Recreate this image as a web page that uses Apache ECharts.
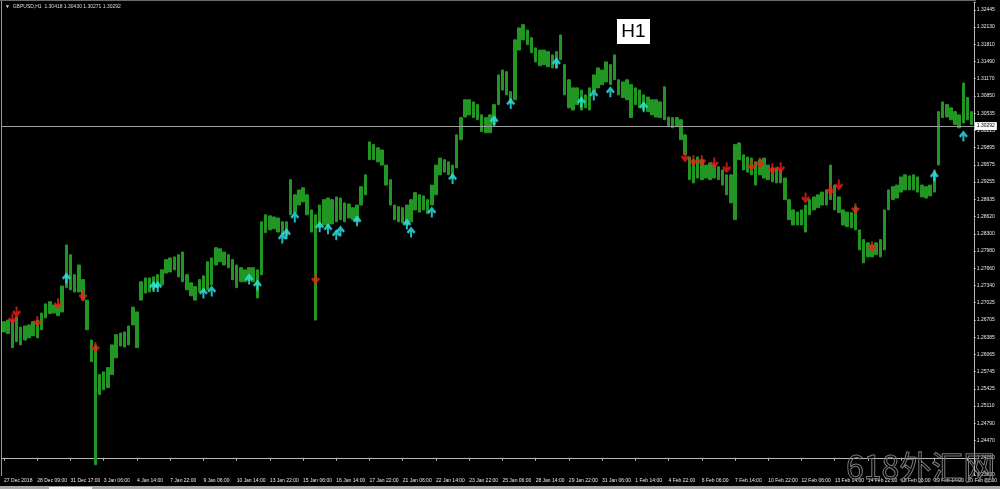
<!DOCTYPE html>
<html><head><meta charset="utf-8">
<script src="https://cdn.jsdelivr.net/npm/echarts@6/dist/echarts.min.js"></script>
<style>html,body{margin:0;padding:0;background:#000;overflow:hidden}#c{width:1000px;height:489px}</style>
</head><body><div id="c"></div>
<script>
// ---- DATA ----
const titleText = '\u25BC  GBPUSD,H1  1.30418 1.30430 1.30271 1.30292';
const periodLabel = 'H1';
const watermark = '618\u5916\u6C47\u7F51';
const currentPrice = 1.30292;
const currentPriceLabel = '1.30292';

const xLabels = ["27 Dec 2018","28 Dec 09:00","31 Dec 17:00","3 Jan 06:00","4 Jan 14:00","7 Jan 22:00","9 Jan 06:00","10 Jan 14:00","13 Jan 22:00","15 Jan 06:00","16 Jan 14:00","17 Jan 22:00","21 Jan 06:00","22 Jan 14:00","23 Jan 22:00","25 Jan 06:00","28 Jan 14:00","29 Jan 22:00","31 Jan 06:00","1 Feb 14:00","4 Feb 22:00","6 Feb 06:00","7 Feb 14:00","10 Feb 22:00","12 Feb 06:00","13 Feb 14:00","14 Feb 22:00","18 Feb 06:00","19 Feb 14:00","20 Feb 22:00"];
const barsPerLabel = 8;

// price tick labels, bottom to top
const yLabels = ["1.23830","1.24150","1.24470","1.24790","1.25110","1.25425","1.25745","1.26065","1.26385","1.26705","1.27025","1.27340","1.27660","1.27980","1.28300","1.28620","1.28935","1.29255","1.29575","1.29895","1.30215","1.30535","1.30850","1.31170","1.31490","1.31810","1.32130","1.32445"];
const yTickBase = 1.24150;
const yTickStep = 0.0031904;
const yTop = 1.32590;

const highs = [
1.2667,1.2670,1.2670,1.2676,1.2657,1.2659,1.2661,1.2667,1.2670,1.2683,
1.2700,1.2704,1.2698,1.2698,1.2733,1.2809,1.2791,1.2754,1.2772,1.2745,
1.2707,1.2633,1.2624,1.2569,1.2574,1.2582,1.2624,1.2643,1.2646,1.2648,
1.2659,1.2694,1.2685,1.2741,1.2748,1.2748,1.2750,1.2754,1.2763,1.2782,
1.2785,1.2787,1.2791,1.2796,1.2754,1.2739,1.2732,1.2745,1.2752,1.2778,
1.2785,1.2804,1.2802,1.2796,1.2791,1.2782,1.2772,1.2767,1.2763,1.2767,
1.2767,1.2763,1.2852,1.2865,1.2863,1.2861,1.2859,1.2852,1.2852,1.2930,
1.2902,1.2911,1.2915,1.2902,1.2874,1.2865,1.2883,1.2893,1.2896,1.2893,
1.2898,1.2896,1.2887,1.2885,1.2878,1.2883,1.2917,1.2939,1.3000,1.2995,
1.2989,1.2985,1.2957,1.2930,1.2883,1.2880,1.2878,1.2883,1.2893,1.2906,
1.2902,1.2900,1.2893,1.2920,1.2957,1.2970,1.2967,1.2963,1.2957,1.3013,
1.3045,1.3078,1.3078,1.3074,1.3069,1.3050,1.3045,1.3050,1.3069,1.3124,
1.3133,1.3130,1.3093,1.3189,1.3211,1.3217,1.3207,1.3193,1.3174,1.3170,
1.3170,1.3167,1.3161,1.3167,1.3198,1.3143,1.3115,1.3100,1.3100,1.3096,
1.3087,1.3100,1.3124,1.3137,1.3133,1.3148,1.3143,1.3161,1.3115,1.3111,
1.3115,1.3106,1.3100,1.3096,1.3087,1.3083,1.3078,1.3078,1.3074,1.3102,
1.3046,1.3045,1.3045,1.3041,1.3013,1.2972,1.2967,1.2972,1.2967,1.2957,
1.2961,1.2957,1.2954,1.2948,1.2939,1.2939,1.2995,1.2998,1.2976,1.2972,
1.2970,1.2963,1.2967,1.2970,1.2957,1.2952,1.2952,1.2948,1.2933,1.2893,
1.2874,1.2870,1.2874,1.2883,1.2893,1.2898,1.2902,1.2907,1.2911,1.2957,
1.2920,1.2898,1.2874,1.2870,1.2869,1.2880,1.2837,1.2819,1.2813,1.2809,
1.2813,1.2819,1.2874,1.2911,1.2917,1.2920,1.2935,1.2939,1.2937,1.2939,
1.2935,1.2920,1.2917,1.2920,1.2948,1.3056,1.3074,1.3069,1.3063,1.3056,
1.3050,1.3109,1.3082,1.3056
];
const lows = [
1.2648,1.2645,1.2619,1.2630,1.2624,1.2633,1.2637,1.2641,1.2637,1.2652,
1.2674,1.2682,1.2683,1.2678,1.2685,1.2730,1.2726,1.2722,1.2722,1.2707,
1.2652,1.2593,1.2402,1.2532,1.2541,1.2545,1.2569,1.2600,1.2622,1.2620,
1.2624,1.2661,1.2619,1.2707,1.2720,1.2722,1.2726,1.2730,1.2735,1.2757,
1.2759,1.2763,1.2750,1.2741,1.2726,1.2715,1.2707,1.2722,1.2722,1.2726,
1.2735,1.2772,1.2778,1.2772,1.2767,1.2745,1.2730,1.2741,1.2741,1.2743,
1.2741,1.2711,1.2754,1.2832,1.2837,1.2839,1.2833,1.2830,1.2826,1.2865,
1.2869,1.2883,1.2889,1.2865,1.2833,1.2670,1.2841,1.2846,1.2843,1.2848,
1.2852,1.2856,1.2852,1.2859,1.2856,1.2852,1.2883,1.2902,1.2967,1.2967,
1.2963,1.2957,1.2920,1.2883,1.2856,1.2852,1.2850,1.2846,1.2852,1.2874,
1.2870,1.2874,1.2867,1.2883,1.2902,1.2939,1.2944,1.2939,1.2933,1.2952,
1.3004,1.3046,1.3050,1.3045,1.3041,1.3019,1.3017,1.3017,1.3032,1.3069,
1.3096,1.3087,1.3072,1.3078,1.3170,1.3189,1.3180,1.3165,1.3148,1.3141,
1.3143,1.3139,1.3137,1.3137,1.3152,1.3087,1.3063,1.3059,1.3069,1.3059,
1.3063,1.3059,1.3093,1.3100,1.3106,1.3111,1.3106,1.3115,1.3087,1.3082,
1.3078,1.3045,1.3069,1.3063,1.3059,1.3056,1.3050,1.3046,1.3045,1.3041,
1.3028,1.3026,1.3028,1.3004,1.2976,1.2930,1.2924,1.2933,1.2930,1.2933,
1.2930,1.2933,1.2930,1.2920,1.2902,1.2887,1.2856,1.2967,1.2948,1.2944,
1.2939,1.2920,1.2939,1.2933,1.2930,1.2926,1.2924,1.2924,1.2893,1.2856,
1.2846,1.2846,1.2846,1.2833,1.2865,1.2874,1.2878,1.2883,1.2883,1.2893,
1.2874,1.2869,1.2846,1.2843,1.2841,1.2837,1.2800,1.2776,1.2787,1.2787,
1.2791,1.2787,1.2800,1.2874,1.2893,1.2896,1.2907,1.2911,1.2911,1.2911,
1.2907,1.2898,1.2896,1.2900,1.2907,1.2957,1.3045,1.3046,1.3041,1.3032,
1.3026,1.3035,1.3041,1.3032
];

const upIdx   = [15,36,37,48,50,59,61,67,68,70,76,78,80,81,85,97,98,103,108,118,122,133,139,142,146,154,224,231];
const upPrice = [1.2748,1.2732,1.2732,1.2720,1.2724,1.2746,1.2735,1.2822,1.2830,1.2861,1.2843,1.2839,1.2828,1.2835,1.2854,1.2848,1.2833,1.2870,1.2932,1.3039,1.3071,1.3146,1.3074,1.3087,1.3093,1.3065,1.2937,1.3011];
const downIdx   = [2,3,8,13,19,22,75,164,166,168,171,174,180,182,185,187,193,199,201,205,209];
const downPrice = [1.2672,1.2685,1.2667,1.2700,1.2715,1.2619,1.2746,1.2972,1.2965,1.2965,1.2961,1.2952,1.2956,1.2961,1.2950,1.2952,1.2896,1.2911,1.2920,1.2876,1.2806];

// ---- CHART ----
const nBars = highs.length;
const categories = [];
for (let i = 0; i < nBars; i++) categories.push(i % barsPerLabel === 0 ? (xLabels[i / barsPerLabel] || '') : '');
const candles = highs.map((h, i) => [lows[i], h, lows[i], h]);
const ups = upIdx.map((k, j) => [k, upPrice[j]]);
const downs = downIdx.map((k, j) => [k, downPrice[j]]);
const showLabel = (i) => i % barsPerLabel === 0;

const upPath = 'path://M5,0 L10,5 L8,6.6 L6.1,4.7 L6.1,10 L3.9,10 L3.9,4.7 L2,6.6 L0,5 Z';
const downPath = 'path://M5,10 L10,5 L8,3.4 L6.1,5.3 L6.1,0 L3.9,0 L3.9,5.3 L2,3.4 L0,5 Z';
const FONT = 'Liberation Sans';
const chart = echarts.init(document.getElementById('c'), null, {renderer: 'canvas'});
chart.setOption({
  backgroundColor: '#000000',
  animation: false,
  grid: {left: 2, right: 25, top: 2, bottom: 14},
  xAxis: {
    type: 'category', data: categories, boundaryGap: true,
    axisLine: {show: true, lineStyle: {color: '#b8b8b8', width: 1}},
    axisTick: {show: true, alignWithLabel: true, interval: showLabel, length: 3, lineStyle: {color: '#b8b8b8'}},
    axisLabel: {show: true, interval: showLabel, align: 'left', color: '#e8e8e8', fontSize: 5, fontFamily: FONT, margin: 3},
    splitLine: {show: false}
  },
  yAxis: [
    {type: 'value', min: yTickBase - yTickStep, max: yTop, show: false, splitLine: {show: false}},
    {type: 'value', position: 'right', min: -1, max: (yTop - yTickBase) / yTickStep, interval: 1,
      axisLine: {show: true, lineStyle: {color: '#b8b8b8', width: 1}},
      axisTick: {show: true, length: 2, lineStyle: {color: '#b8b8b8'}},
      splitLine: {show: false},
      axisLabel: {show: true, color: '#e8e8e8', fontSize: 5, fontFamily: FONT, margin: 3,
        formatter: (v) => { const k = Math.round(v); if (Math.abs(v - k) > 1e-6) return ''; return yLabels[k + 1] || ''; }}
    }
  ],
  series: [
    {
      type: 'candlestick', yAxisIndex: 0, data: candles, barWidth: 3,
      itemStyle: {color: '#229622', color0: '#229622', borderColor: '#229622', borderColor0: '#229622', borderWidth: 1}
    },
    {type: 'scatter', yAxisIndex: 0, data: ups, symbol: upPath, symbolSize: [9, 11],
      itemStyle: {color: '#2ee6ee'}, z: 5,
      markLine: {
        silent: true, symbol: 'none', precision: 5,
        lineStyle: {color: '#a0a0a0', width: 1, type: 'solid'},
        label: {show: true, position: 'end', formatter: currentPriceLabel, backgroundColor: '#ffffff', color: '#000000',
          fontSize: 5, fontFamily: FONT, padding: [2, 2, 1, 2], distance: 1},
        data: [{yAxis: currentPrice}]
      }
    },
    {type: 'scatter', yAxisIndex: 0, data: downs, symbol: downPath, symbolSize: [9, 11],
      itemStyle: {color: '#f21c1c'}, z: 5}
  ],
  graphic: [
    {type: 'line', shape: {x1: 1.5, y1: 0, x2: 1.5, y2: 476}, style: {stroke: '#9a9a9a', lineWidth: 1}, silent: true},
    {type: 'line', shape: {x1: 0, y1: 0.5, x2: 976, y2: 0.5}, style: {stroke: '#6a6a6a', lineWidth: 1}, silent: true},
    {type: 'text', left: 5, top: 4, style: {text: titleText, fill: '#dcdcdc', font: '5px ' + FONT}, silent: true},
    {type: 'rect', shape: {x: 617, y: 19, width: 33, height: 25}, style: {fill: '#ffffff'}, silent: true},
    {type: 'text', x: 633.5, y: 32, style: {text: periodLabel, fill: '#000000', font: '19px ' + FONT, align: 'center', verticalAlign: 'middle'}, silent: true},
    {type: 'rect', shape: {x: 0, y: 486, width: 1000, height: 3}, style: {fill: '#a8a8a8'}, silent: true},
    {type: 'rect', shape: {x: 49, y: 487, width: 43, height: 2}, style: {fill: '#f0f0f0'}, silent: true},
    {type: 'text', x: 846, y: 467, z: 100, style: {text: watermark, fill: 'rgba(0,0,0,0)', stroke: '#7a7a7a', lineWidth: 1,
      font: '32px "Noto Sans CJK SC"', verticalAlign: 'middle'}, silent: true}
  ]
});
</script>
</body></html>
